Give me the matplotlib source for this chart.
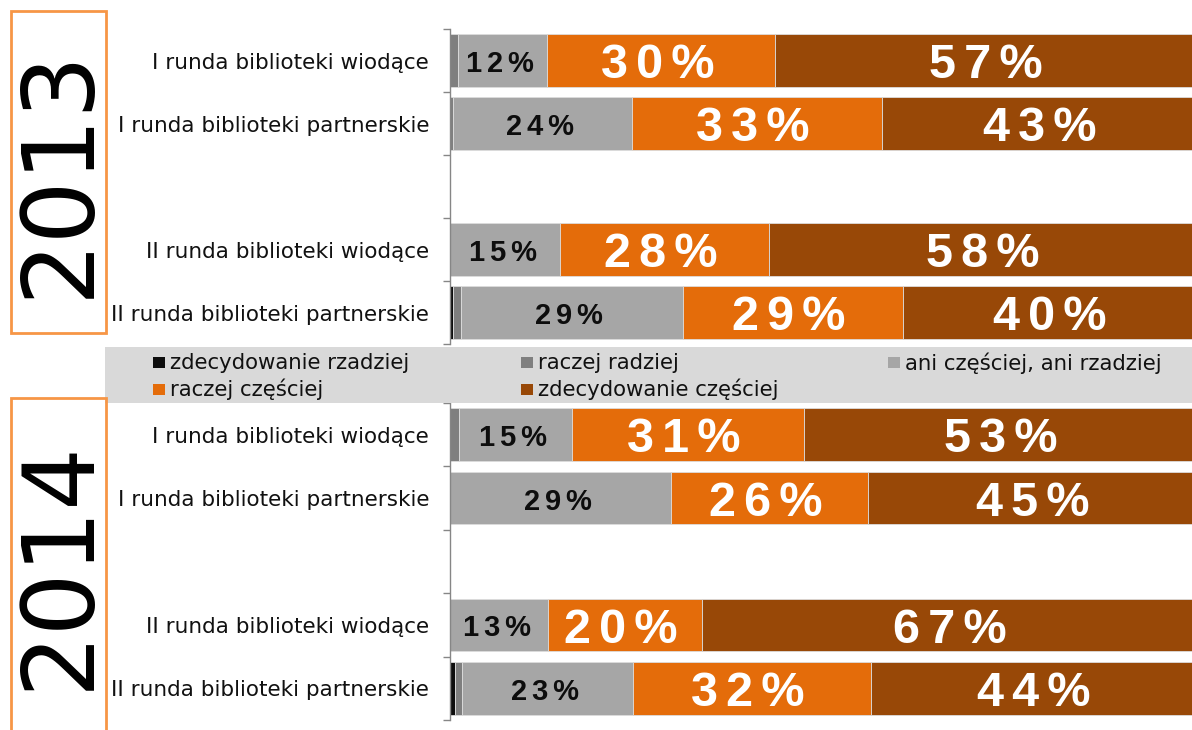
import matplotlib
matplotlib.use("Agg")
import matplotlib.pyplot as plt
from matplotlib.patches import Rectangle

# ---------------- data ----------------
categories = ["I runda biblioteki wiodące", "I runda biblioteki partnerskie",
              "II runda biblioteki wiodące", "II runda biblioteki partnerskie"]
years = ["2013", "2014"]
series_names = ["zdecydowanie rzadziej", "raczej radziej", "ani częściej, ani rzadziej",
                "raczej częściej", "zdecydowanie częściej"]
series_colors = ["#0d0d0d", "#7f7f7f", "#a6a6a6", "#e46c0a", "#984807"]

zr_2013 = [0.0, 0.0, 0.0, 0.4]
rr_2013 = [1.1, 0.4, 0.0, 1.0]
ani_2013 = [11.8, 23.7, 14.6, 29.4]
rc_2013 = [30.2, 33.1, 27.6, 29.2]
zc_2013 = [56.9, 42.8, 57.8, 40.0]

zr_2014 = [0.0, 0.0, 0.0, 0.7]
rr_2014 = [1.2, 0.0, 0.0, 0.9]
ani_2014 = [15.0, 29.3, 13.0, 22.6]
rc_2014 = [30.7, 26.1, 20.4, 31.5]
zc_2014 = [53.1, 44.6, 66.6, 44.3]

data = {
    "2013": [zr_2013, rr_2013, ani_2013, rc_2013, zc_2013],
    "2014": [zr_2014, rr_2014, ani_2014, rc_2014, zc_2014],
}

# ---------------- layout helpers ----------------
W, H = 1192, 730
fig = plt.figure(figsize=(W / 100, H / 100), dpi=100)


def fx(px):
    return px / W


def fy(py):
    return 1 - py / H


slots = [0, 1, 3, 4]          # slot 2 is an empty gap
axes_px = {"2013": (29, 344), "2014": (403, 720)}
x0_px, x1_px = 450, 1205      # 100% lies slightly beyond the right edge
label_font = ["Liberation Sans", "DejaVu Sans"]
SP = "\u2006"


def spaced(s):
    return SP.join(s) + SP


for yr in years:
    top, bot = axes_px[yr]
    ax = fig.add_axes([fx(x0_px), fy(bot), fx(x1_px) - fx(x0_px), (bot - top) / H])
    vals = data[yr]
    left = [0.0] * len(categories)
    for si, (name, col) in enumerate(zip(series_names, series_colors)):
        ax.barh(slots, vals[si], left=left, height=0.83, color=col,
                edgecolor="#dcdcdc", linewidth=0.6, label=name)
        for ci, v in enumerate(vals[si]):
            if si >= 2 and v >= 5:
                cx = left[ci] + v / 2
                txt = spaced(f"{round(v)}%")
                if si == 2:
                    ax.annotate(txt, (cx, slots[ci]), xytext=(0, -2.5),
                                textcoords="offset points", ha="center", va="center",
                                fontsize=21, fontweight="bold", color="#0d0d0d",
                                family=label_font)
                else:
                    ax.annotate(txt, (cx, slots[ci]), xytext=(0, -3.8),
                                textcoords="offset points", ha="center", va="center",
                                fontsize=35, fontweight="bold", color="white",
                                family=label_font)
        left = [l + v for l, v in zip(left, vals[si])]

    ax.set_xlim(0, 100)
    ax.set_ylim(4.5, -0.5)
    ax.set_xticks([])
    ax.set_yticks(slots)
    ax.set_yticklabels(categories, fontsize=15.5, family="DejaVu Sans", color="#111111")
    ax.tick_params(axis="y", which="major", length=0, pad=15)
    ax.set_yticks([-0.5, 0.5, 1.5, 2.5, 3.5, 4.5], minor=True)
    ax.tick_params(axis="y", which="minor", length=5, width=1, color="#868686",
                   direction="out")
    for s in ["top", "right", "bottom"]:
        ax.spines[s].set_visible(False)
    ax.spines["left"].set_color("#868686")
    ax.spines["left"].set_linewidth(1)
    ax.patch.set_alpha(0)

# ---------------- legend band ----------------
fig.patches.append(Rectangle((fx(105), fy(403)), fx(1192) - fx(105), (403 - 347) / H,
                             transform=fig.transFigure, facecolor="#d9d9d9",
                             edgecolor="none", zorder=3))
col_x = [153, 521, 888]
row_y = [363, 389]
order = [(0, 0), (0, 1), (0, 2), (1, 0), (1, 1)]
for (r, c), name, col in zip(order, series_names, series_colors):
    mx, my = col_x[c], row_y[r]
    fig.patches.append(Rectangle((fx(mx), fy(my + 5.5)), 12 / W, 11 / H,
                                 transform=fig.transFigure, facecolor=col,
                                 edgecolor="none", zorder=4))
    fig.text(fx(mx + 17), fy(my), name, ha="left", va="center", fontsize=15.3,
             family="DejaVu Sans", color="#111111", zorder=5)

# ---------------- year boxes ----------------
boxes = {"2013": (11, 11, 106, 333), "2014": (11, 398, 106, 732)}
for yr in years:
    x_a, y_a, x_b, y_b = boxes[yr]
    fig.patches.append(Rectangle((fx(x_a), fy(y_b)), (x_b - x_a) / W, (y_b - y_a) / H,
                                 transform=fig.transFigure, facecolor="none",
                                 edgecolor="#f79646", linewidth=2, zorder=6))
    fig.text(fx((x_a + x_b) / 2 + 2), fy((y_a + y_b) / 2), yr, rotation=90,
             ha="center", va="center", fontsize=71, family="DejaVu Sans",
             color="black", zorder=7)

fig.savefig("out.png", dpi=100)
